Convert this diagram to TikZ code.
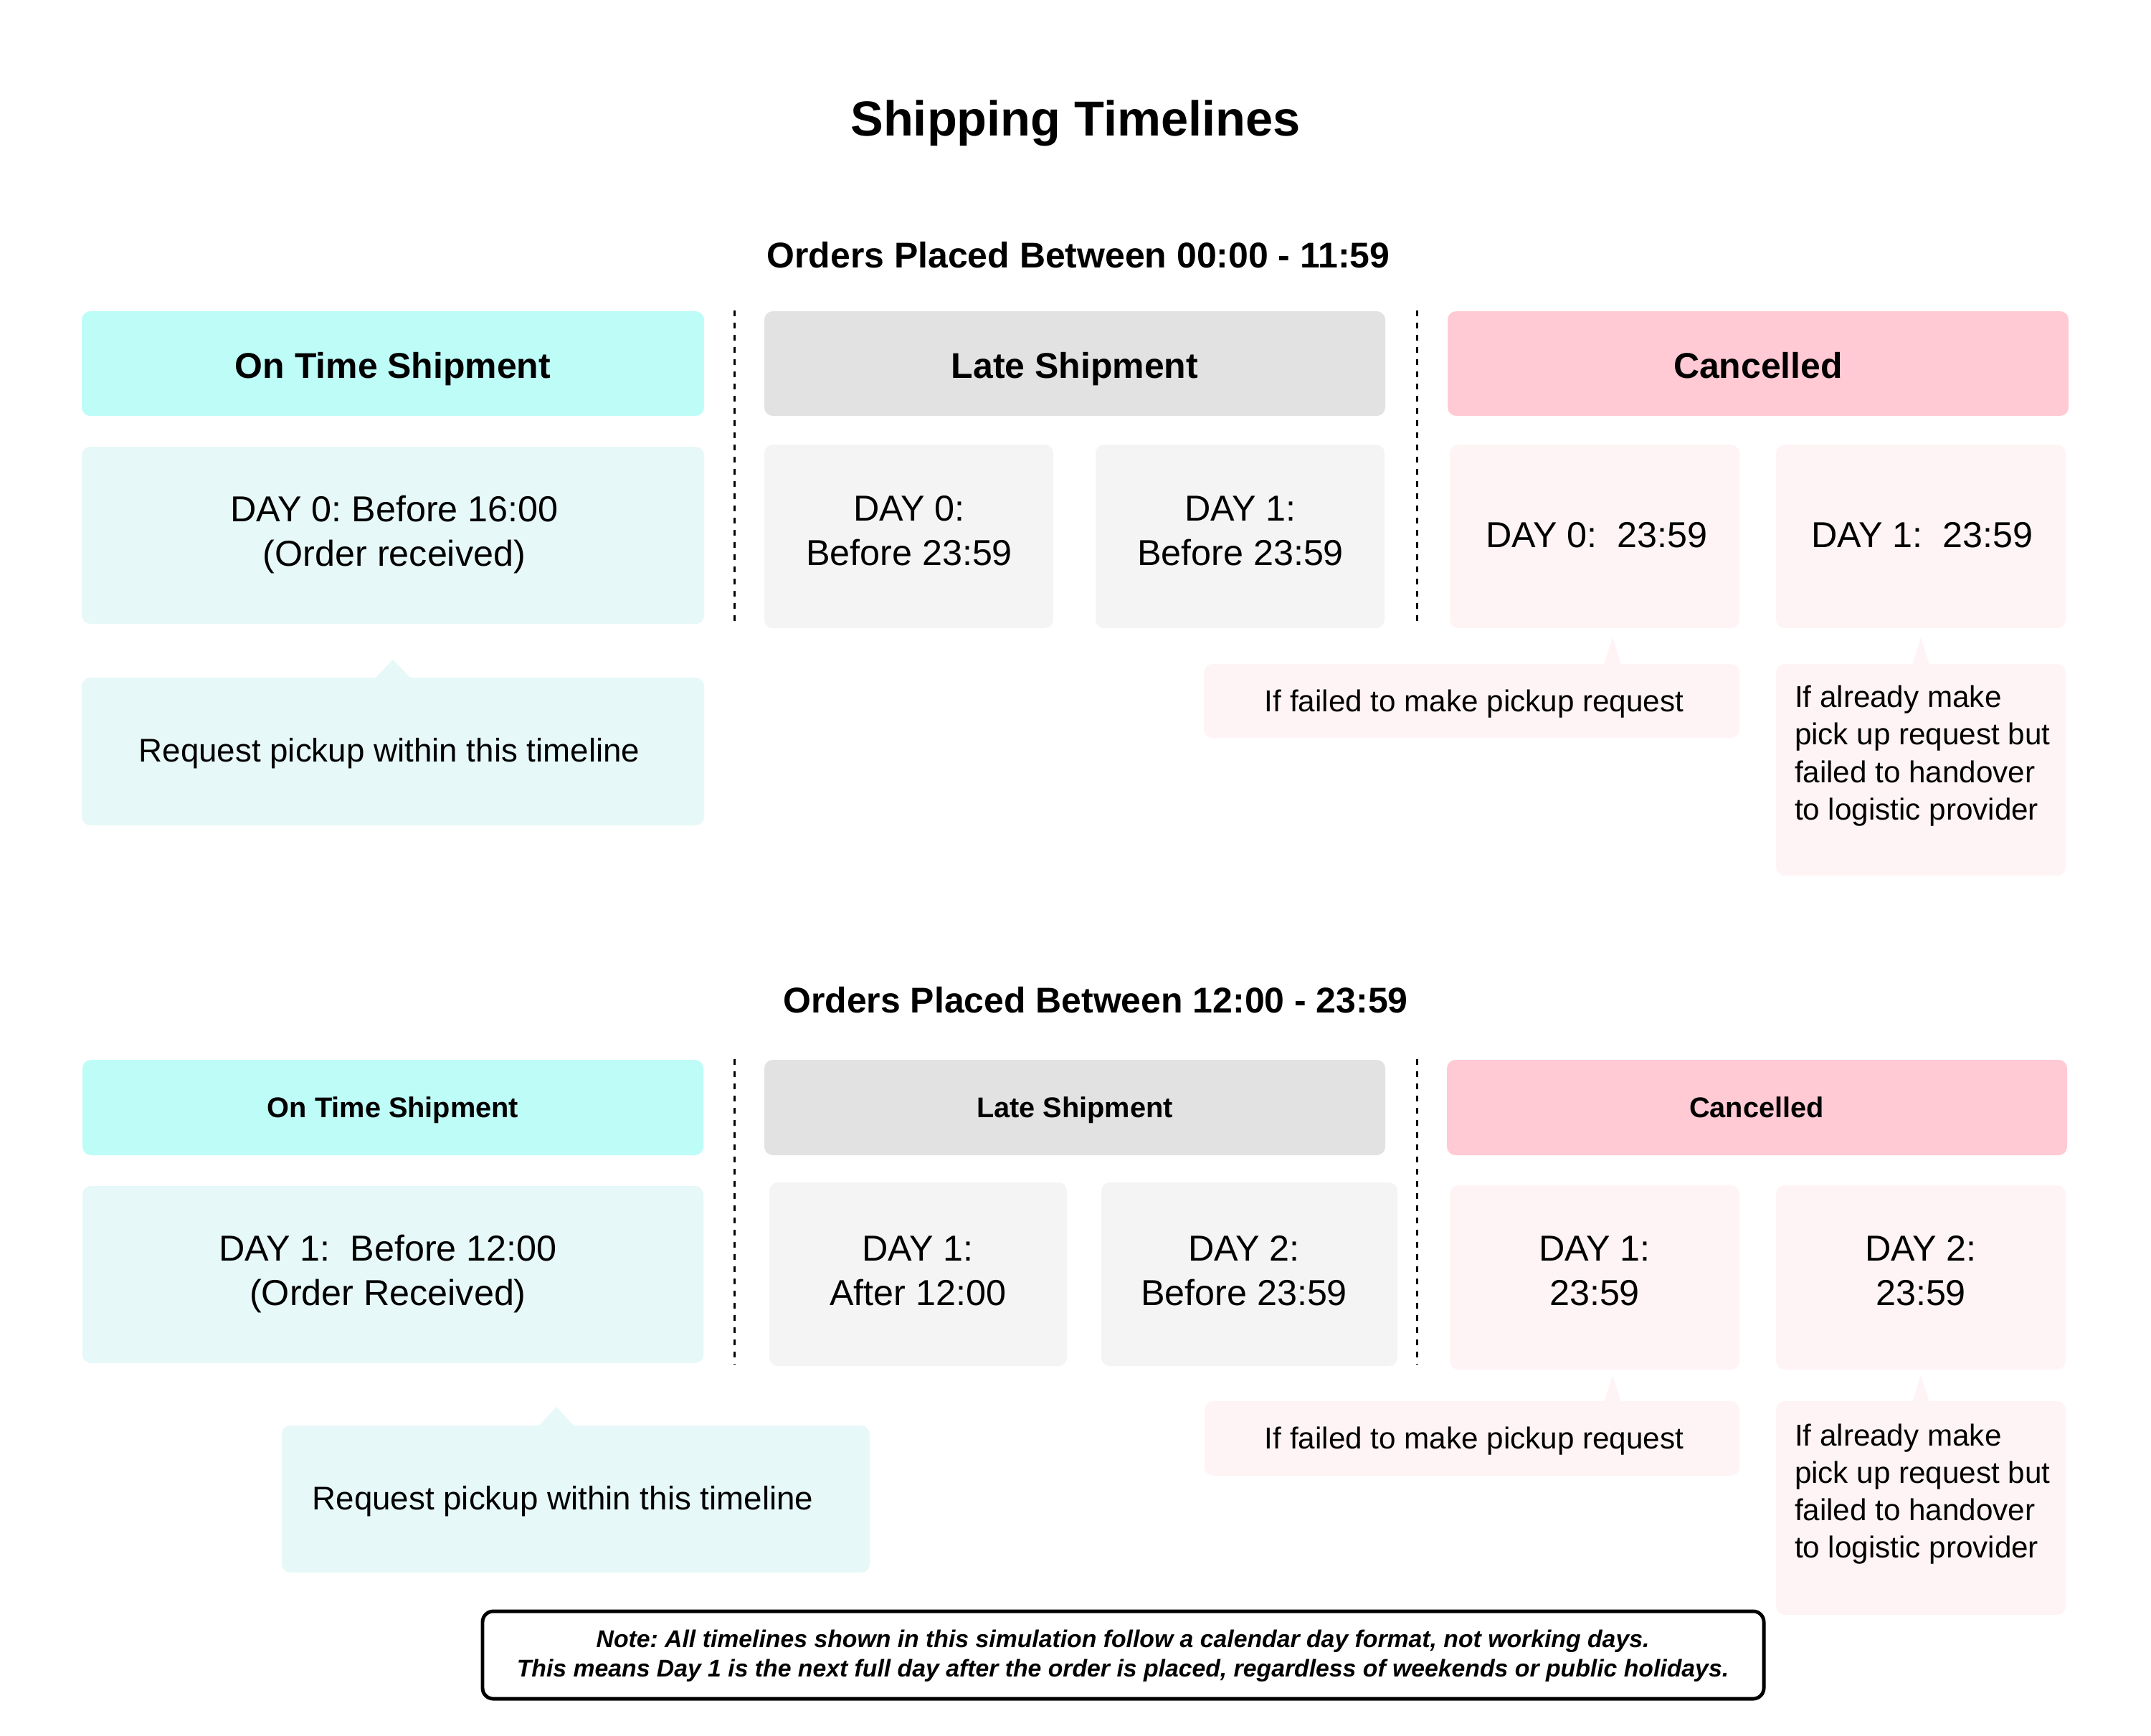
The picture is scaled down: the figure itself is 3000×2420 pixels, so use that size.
\documentclass[tikz,border=0pt]{standalone}
\usepackage{fontspec}
\setmainfont{Liberation Sans}
\frenchspacing
\definecolor{onHeadC}{RGB}{190,252,248}
\definecolor{onBodyC}{RGB}{230,248,247}
\definecolor{lateHeadC}{RGB}{226,226,226}
\definecolor{lateBodyC}{RGB}{244,244,244}
\definecolor{canHeadC}{RGB}{255,202,212}
\definecolor{canBodyC}{RGB}{255,244,245}
\newcommand\panelbox[6]{\node[#2, anchor=north west, minimum width={(#5-#3)*0.01cm}, minimum height={(#6-#4)*0.01cm}] (#1) at (#3,#4) {};}
\begin{document}
\begin{tikzpicture}[x=0.01cm,y=-0.01cm,
  every node/.style={inner sep=0pt, outer sep=0pt},
  panel/.style={rounded corners=0.12cm, inner sep=0pt, outer sep=0pt},
  onhead/.style={panel, fill=onHeadC},
  onbody/.style={panel, fill=onBodyC},
  latehead/.style={panel, fill=lateHeadC},
  latebody/.style={panel, fill=lateBodyC},
  canhead/.style={panel, fill=canHeadC},
  canbody/.style={panel, fill=canBodyC},
  sepline/.style={line width=0.85pt, dash pattern=on 0.08cm off 0.09cm},
  ttl/.style={anchor=base, font=\fontsize{19.5pt}{23pt}\selectfont\bfseries},
  subttl/.style={anchor=base, font=\fontsize{14.2pt}{17pt}\selectfont\bfseries},
  headA/.style={anchor=base, font=\fontsize{14.2pt}{17pt}\selectfont\bfseries},
  headB/.style={anchor=base, font=\fontsize{11.3pt}{14pt}\selectfont\bfseries},
  daytxt/.style={anchor=base, font=\fontsize{14.3pt}{17pt}\selectfont},
  calltxtA/.style={anchor=base, font=\fontsize{13pt}{16pt}\selectfont},
  calltxtB/.style={anchor=base, font=\fontsize{12pt}{14.5pt}\selectfont},
  calltxtL/.style={anchor=base west, font=\fontsize{12pt}{14.5pt}\selectfont},
  notetxt/.style={anchor=base, font=\fontsize{9.6pt}{12pt}\selectfont\bfseries\itshape},
]
\useasboundingbox (0,0) rectangle (3000,2420);
\fill[white] (0,0) rectangle (3000,2420);

% ---------- titles ----------
\node[ttl] (title) at (1500,189) {Shipping Timelines};
\node[subttl] (sub1) at (1504,373) {Orders Placed Between 00:00 - 11:59};
\node[subttl] (sub2) at (1528,1412) {Orders Placed Between 12:00 - 23:59};

% ---------- row 1 ----------
\panelbox{h1a}{onhead}{114}{434}{982}{580}
\panelbox{h1b}{latehead}{1066}{434}{1932}{580}
\panelbox{h1c}{canhead}{2019}{434}{2885}{580}
\node[headA] (h1a-t) at (548,527) {On Time Shipment};
\node[headA] (h1b-t) at (1499,527) {Late Shipment};
\node[headA] (h1c-t) at (2452,527) {Cancelled};

\panelbox{d1a}{onbody}{114}{623}{982}{870}
\panelbox{d1b}{latebody}{1066}{620}{1469}{876}
\panelbox{d1c}{latebody}{1528}{620}{1931}{876}
\panelbox{d1d}{canbody}{2022}{620}{2426}{876}
\panelbox{d1e}{canbody}{2477}{620}{2881}{876}
\node[daytxt] (d1a-l1) at (550,727) {DAY 0: Before 16:00};
\node[daytxt] (d1a-l2) at (550,789) {(Order received)};
\node[daytxt] (d1b-l1) at (1268,726) {DAY 0:};
\node[daytxt] (d1b-l2) at (1268,788) {Before 23:59};
\node[daytxt] (d1c-l1) at (1730,726) {DAY 1:};
\node[daytxt] (d1c-l2) at (1730,788) {Before 23:59};
\node[daytxt] (d1d-l1) at (2227,763) {DAY 0:\ \ 23:59};
\node[daytxt] (d1e-l1) at (2681,763) {DAY 1:\ \ 23:59};

% callouts row 1
\panelbox{c1a}{onbody}{114}{945}{982}{1151}
\coordinate (c1a-tip) at (548,920);
\fill[onBodyC] (c1a-tip) -- ++(-25,26) -- ++(50,0) -- cycle;
\node[calltxtA] (c1a-t) at (543,1062) {Request pickup within this timeline};

\panelbox{c1b}{canbody}{1679}{926}{2426}{1029}
\coordinate (c1b-tip) at (2249,888);
\fill[canBodyC] (c1b-tip) -- ++(-12,39) -- ++(24,0) -- cycle;
\node[calltxtB] (c1b-t) at (2056,992) {If failed to make pickup request};

\panelbox{c1c}{canbody}{2477}{926}{2881}{1221}
\coordinate (c1c-tip) at (2679,889);
\fill[canBodyC] (c1c-tip) -- ++(-12,38) -- ++(24,0) -- cycle;
\node[calltxtL] (c1c-l1) at (2503,986) {If already make};
\node[calltxtL] (c1c-l2) at (2503,1038) {pick up request but};
\node[calltxtL] (c1c-l3) at (2503,1091) {failed to handover};
\node[calltxtL] (c1c-l4) at (2503,1143) {to logistic provider};

% separators row 1
\coordinate (s1a-top) at (1024,433); \coordinate (s1a-bot) at (1024,870);
\coordinate (s1b-top) at (1976,433); \coordinate (s1b-bot) at (1976,870);
\draw[sepline] (s1a-top) -- (s1a-bot);
\draw[sepline] (s1b-top) -- (s1b-bot);

% ---------- row 2 ----------
\panelbox{h2a}{onhead}{115}{1478}{981}{1611}
\panelbox{h2b}{latehead}{1066}{1478}{1932}{1611}
\panelbox{h2c}{canhead}{2018}{1478}{2883}{1611}
\node[headB] (h2a-t) at (548,1558) {On Time Shipment};
\node[headB] (h2b-t) at (1499,1558) {Late Shipment};
\node[headB] (h2c-t) at (2450,1558) {Cancelled};

\panelbox{d2a}{onbody}{115}{1654}{981}{1901}
\panelbox{d2b}{latebody}{1073}{1649}{1488}{1905}
\panelbox{d2c}{latebody}{1536}{1649}{1949}{1905}
\panelbox{d2d}{canbody}{2022}{1653}{2426}{1910}
\panelbox{d2e}{canbody}{2477}{1653}{2881}{1910}
\node[daytxt] (d2a-l1) at (541,1758) {DAY 1:\ \ Before 12:00};
\node[daytxt] (d2a-l2) at (541,1820) {(Order Received)};
\node[daytxt] (d2b-l1) at (1280,1758) {DAY 1:};
\node[daytxt] (d2b-l2) at (1280,1820) {After 12:00};
\node[daytxt] (d2c-l1) at (1735,1758) {DAY 2:};
\node[daytxt] (d2c-l2) at (1735,1820) {Before 23:59};
\node[daytxt] (d2d-l1) at (2224,1758) {DAY 1:};
\node[daytxt] (d2d-l2) at (2224,1820) {23:59};
\node[daytxt] (d2e-l1) at (2679,1758) {DAY 2:};
\node[daytxt] (d2e-l2) at (2679,1820) {23:59};

% callouts row 2
\panelbox{c2a}{onbody}{393}{1988}{1213}{2193}
\coordinate (c2a-tip) at (776,1962);
\fill[onBodyC] (c2a-tip) -- ++(-25,27) -- ++(50,0) -- cycle;
\node[calltxtA] (c2a-t) at (785,2105) {Request pickup within this timeline};

\panelbox{c2b}{canbody}{1680}{1954}{2426}{2058}
\coordinate (c2b-tip) at (2249,1918);
\fill[canBodyC] (c2b-tip) -- ++(-12,37) -- ++(24,0) -- cycle;
\node[calltxtB] (c2b-t) at (2056,2020) {If failed to make pickup request};

\panelbox{c2c}{canbody}{2477}{1954}{2881}{2252}
\coordinate (c2c-tip) at (2679,1918);
\fill[canBodyC] (c2c-tip) -- ++(-12,37) -- ++(24,0) -- cycle;
\node[calltxtL] (c2c-l1) at (2503,2016) {If already make};
\node[calltxtL] (c2c-l2) at (2503,2068) {pick up request but};
\node[calltxtL] (c2c-l3) at (2503,2120) {failed to handover};
\node[calltxtL] (c2c-l4) at (2503,2172) {to logistic provider};

% separators row 2
\coordinate (s2a-top) at (1024,1477); \coordinate (s2a-bot) at (1024,1903);
\coordinate (s2b-top) at (1976,1477); \coordinate (s2b-bot) at (1976,1903);
\draw[sepline] (s2a-top) -- (s2a-bot);
\draw[sepline] (s2b-top) -- (s2b-bot);

% ---------- note ----------
\node[draw=black, line width=1.4pt, rounded corners=0.15cm, fill=white, anchor=north west,
  minimum width=17.86cm, minimum height=1.22cm] (note) at (673,2247) {};
\node[notetxt] (note-l1) at (1566,2297) {Note: All timelines shown in this simulation follow a calendar day format, not working days.};
\node[notetxt] (note-l2) at (1566,2338) {This means Day 1 is the next full day after the order is placed, regardless of weekends or public holidays.};
\end{tikzpicture}
\end{document}
